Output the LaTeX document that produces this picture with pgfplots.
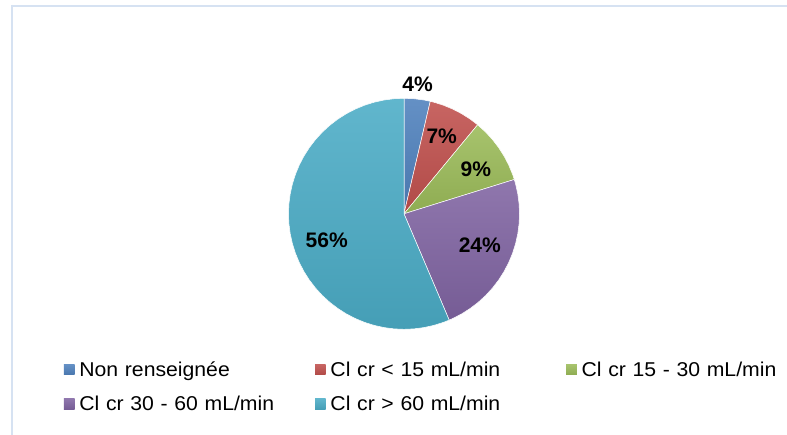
\documentclass[border=0pt]{standalone}
\usepackage{pgfplots}
\pgfplotsset{compat=1.18}
\usepgfplotslibrary{polar}
\usepackage{fontspec}
\setmainfont{Liberation Sans}
\newfontfamily\legfont[FakeStretch=1.06]{Liberation Sans}
\definecolor{cA}{HTML}{4F81BD}
\definecolor{cB}{HTML}{C0504D}
\definecolor{cC}{HTML}{9BBB59}
\definecolor{cD}{HTML}{8064A2}
\definecolor{cE}{HTML}{4BACC6}
\definecolor{framec}{RGB}{214,226,242}
% slice shares (%), clockwise from 12 o'clock: 3.65, 7.35, 9.2, 23.4, 56.4
\begin{document}
\begin{tikzpicture}
\path[use as bounding box] (0pt,0pt) rectangle (787pt,435pt);
\fill[white] (0pt,0pt) rectangle (787pt,435pt);
\draw[framec, line width=2pt] (11pt,429pt) -- (787pt,429pt);
\draw[framec, line width=1.6pt] (11.8pt,430pt) -- (11.8pt,0pt);
\begin{polaraxis}[
  at={(404pt,221.2pt)}, anchor=center,
  scale only axis, width=231pt, height=231pt,
  hide axis, clip=false,
  xmin=0, xmax=360, ymin=0, ymax=1,
  legend columns=3,
  legend cell align=left,
  legend image code/.code={\path[#1,draw=none] (0pt,-5.3pt) rectangle (10.6pt,5.3pt);},
  legend style={at={(-0.97186,-0.13593)}, anchor=north west, draw=none, fill=none,
     inner sep=0pt, outer sep=0pt, row sep=16.3pt, column sep=0pt,
     nodes={font=\legfont\fontsize{20pt}{24pt}\selectfont, inner sep=0pt,
            text height=16pt, text depth=2pt, text width=235.7pt, align=left},
     /tikz/every odd column/.style={column sep=4.8pt},
     /tikz/every even column/.style={column sep=0pt}},
]
\addplot[draw=white, line width=0.5pt, top color=cA!88!white, bottom color=cA!92!black]
  coordinates {(0,0) (90,1) (85,1) (80,1) (76.86,1) (0,0)};
\addlegendentry{Non renseignée}
\addplot[draw=white, line width=0.5pt, top color=cB!88!white, bottom color=cB!92!black]
  coordinates {(0,0) (76.86,1) (75,1) (70,1) (65,1) (60,1) (55,1) (50.4,1) (0,0)};
\addlegendentry{Cl cr < 15 mL/min}
\addplot[draw=white, line width=0.5pt, top color=cC!88!white, bottom color=cC!92!black]
  coordinates {(0,0) (50.4,1) (45,1) (40,1) (35,1) (30,1) (25,1) (20,1) (17.28,1) (0,0)};
\addlegendentry{Cl cr 15 - 30 mL/min}
\addplot[draw=white, line width=0.5pt, top color=cD!88!white, bottom color=cD!92!black]
  coordinates {(0,0) (17.28,1) (15,1) (10,1) (5,1) (0,1) (-5,1) (-10,1) (-15,1) (-20,1)
   (-25,1) (-30,1) (-35,1) (-40,1) (-45,1) (-50,1) (-55,1) (-60,1) (-65,1) (-66.96,1) (0,0)};
\addlegendentry{Cl cr 30 - 60 mL/min}
\addplot[draw=white, line width=0.5pt, top color=cE!88!white, bottom color=cE!92!black]
  coordinates {(0,0) (-66.96,1) (-70,1) (-75,1) (-80,1) (-85,1) (-90,1) (-95,1) (-100,1)
   (-105,1) (-110,1) (-115,1) (-120,1) (-125,1) (-130,1) (-135,1) (-140,1) (-145,1)
   (-150,1) (-155,1) (-160,1) (-165,1) (-170,1) (-175,1) (-180,1) (-185,1) (-190,1)
   (-195,1) (-200,1) (-205,1) (-210,1) (-215,1) (-220,1) (-225,1) (-230,1) (-235,1)
   (-240,1) (-245,1) (-250,1) (-255,1) (-260,1) (-265,1) (-270,1) (0,0)};
\addlegendentry{Cl cr > 60 mL/min}
\begin{scope}[every node/.style={font=\bfseries\fontsize{21pt}{25pt}\selectfont,
    inner sep=0pt, text height=15pt, text depth=0pt, anchor=center}]
\node at (axis cs:84,1.128) {4\%};
\node at (axis cs:64,0.745) {7\%};
\node at (axis cs:32,0.733) {9\%};
\node at (axis cs:-22.6,0.711) {24\%};
\node at (axis cs:198.8,0.707) {56\%};
\end{scope}
\end{polaraxis}
\end{tikzpicture}
\end{document}
